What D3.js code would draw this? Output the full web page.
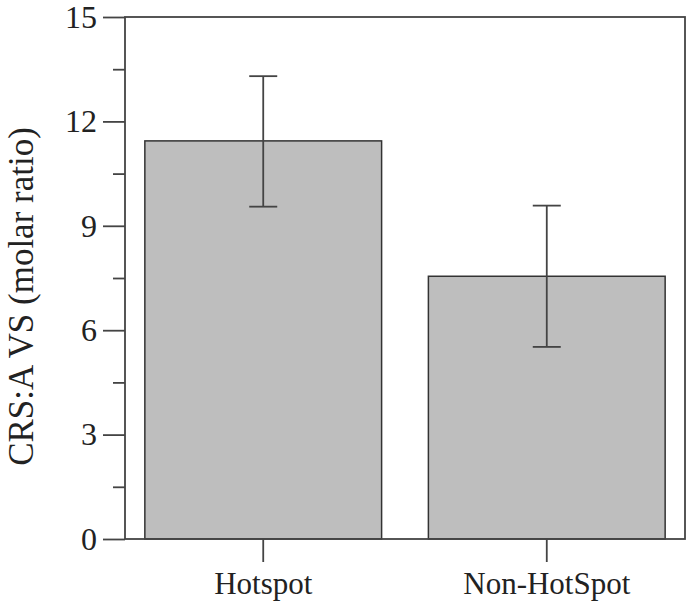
<!DOCTYPE html>
<html>
<head>
<meta charset="utf-8">
<script src="https://cdn.jsdelivr.net/npm/d3@7"></script>
<style>
  body { margin: 0; background: #fff; }
  text { font-family: "Liberation Serif", "DejaVu Serif", serif; fill: #222; }
</style>
</head>
<body>
<div id="chart"></div>
<script>
// ==== Data ====
const sites = ["Hotspot", "Non-HotSpot"];
const ratio = [11.44, 7.55];
const errTop = [13.3, 9.58];
const errBottom = [9.55, 5.52];
const majorTicks = [0, 3, 6, 9, 12, 15];
const minorTicks = [1.5, 4.5, 7.5, 10.5, 13.5];

// ==== Setup ====
const width = 686, height = 608;
const plotLeft = 125, plotRight = 685, plotTop = 17, plotBottom = 539;

const svg = d3.select("#chart").append("svg")
  .attr("width", width)
  .attr("height", height);

const x = d3.scaleBand().domain(sites).range([plotLeft, plotRight])
  .paddingInner(0.165).paddingOuter(0.07);
const y = d3.scaleLinear().domain([0, 15]).range([plotBottom, plotTop]);

// bars
svg.selectAll(".bar").data(sites).enter().append("rect")
  .attr("x", d => x(d))
  .attr("y", (d, i) => y(ratio[i]))
  .attr("width", x.bandwidth())
  .attr("height", (d, i) => y(0) - y(ratio[i]))
  .attr("fill", "#bebebe")
  .attr("stroke", "#333")
  .attr("stroke-width", 1.5);

// error bars
const capW = 14;
sites.forEach((s, i) => {
  const cx = x(s) + x.bandwidth() / 2;
  const g = svg.append("g").attr("stroke", "#444").attr("stroke-width", 1.8);
  g.append("line").attr("x1", cx).attr("x2", cx).attr("y1", y(errTop[i])).attr("y2", y(errBottom[i]));
  g.append("line").attr("x1", cx - capW).attr("x2", cx + capW).attr("y1", y(errTop[i])).attr("y2", y(errTop[i]));
  g.append("line").attr("x1", cx - capW).attr("x2", cx + capW).attr("y1", y(errBottom[i])).attr("y2", y(errBottom[i]));
});

// frame
svg.append("rect")
  .attr("x", plotLeft).attr("y", plotTop)
  .attr("width", plotRight - plotLeft).attr("height", plotBottom - plotTop)
  .attr("fill", "none").attr("stroke", "#444").attr("stroke-width", 1.8);

// y axis
const yAxis = svg.append("g")
  .attr("transform", `translate(${plotLeft},0)`)
  .call(d3.axisLeft(y).tickValues(majorTicks).tickSize(22).tickPadding(6).tickFormat(d3.format("d")));
yAxis.select(".domain").remove();
yAxis.selectAll("line").attr("stroke", "#444").attr("stroke-width", 1.8);
yAxis.selectAll("text").style("font-size", "32px").attr("fill", "#222");

const yMinor = svg.append("g")
  .attr("transform", `translate(${plotLeft},0)`)
  .call(d3.axisLeft(y).tickValues(minorTicks).tickSize(12).tickFormat(""));
yMinor.select(".domain").remove();
yMinor.selectAll("line").attr("stroke", "#444").attr("stroke-width", 1.8);

// x axis
const xAxis = svg.append("g")
  .attr("transform", `translate(0,${plotBottom})`)
  .call(d3.axisBottom(x).tickSize(23).tickPadding(10));
xAxis.select(".domain").remove();
xAxis.selectAll("line").attr("stroke", "#444").attr("stroke-width", 1.8);
xAxis.selectAll("text").style("font-size", "31px").attr("fill", "#222");

// y label
svg.append("text")
  .attr("transform", `translate(33,${(123 + 470) / 2}) rotate(-90)`)
  .attr("text-anchor", "middle")
  .style("font-size", "35px")
  .text("CRS:A VS (molar ratio)");
</script>
</body>
</html>
